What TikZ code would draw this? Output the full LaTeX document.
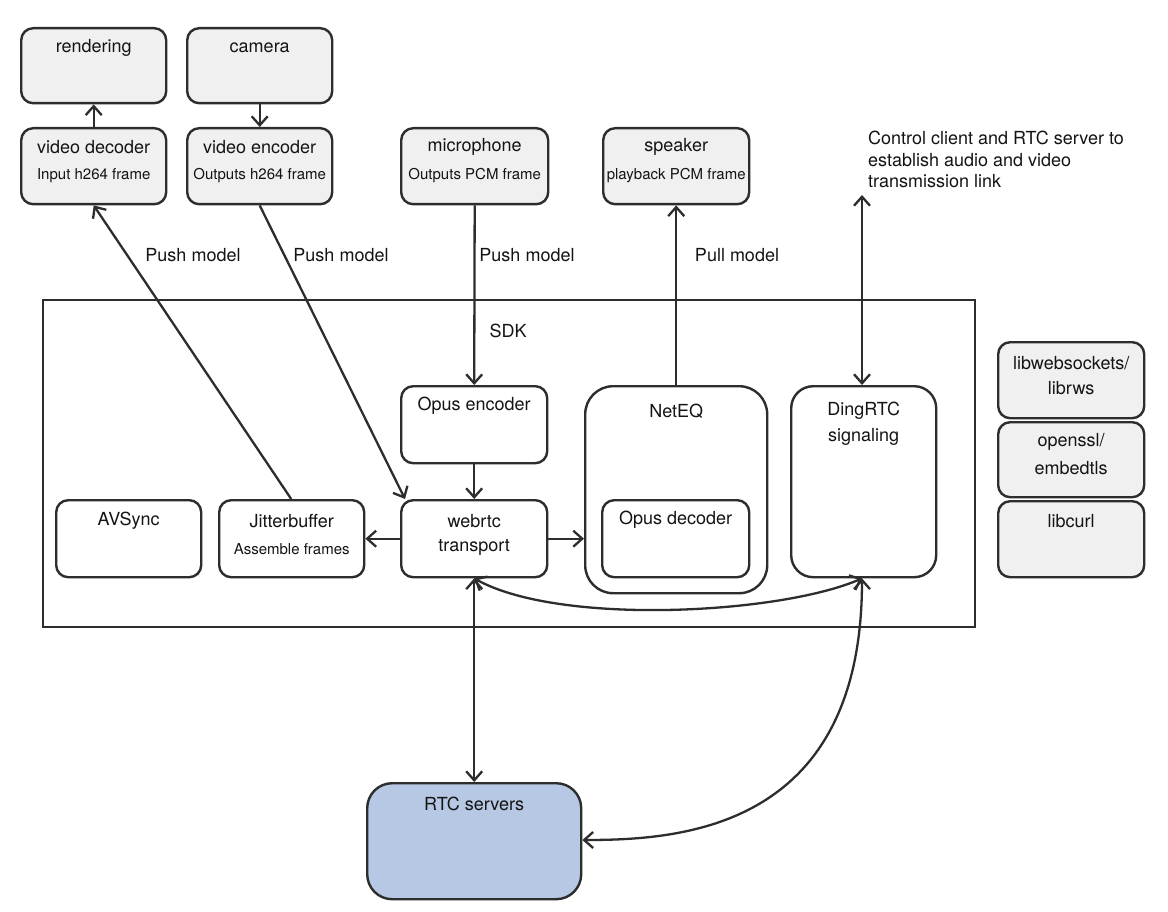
\documentclass[tikz,border=0pt]{standalone}
\usepackage{fontspec}
\setmainfont{TeX Gyre Heros}
\usetikzlibrary{arrows.meta}
\definecolor{linec}{RGB}{45,45,45}
\definecolor{boxfill}{RGB}{240,240,240}
\definecolor{rtcfill}{RGB}{182,200,228}
\definecolor{txt}{RGB}{20,20,20}
\tikzset{
  box/.style={draw=linec, line width=2.4pt, fill=boxfill, rounded corners=12pt, minimum width=145pt, minimum height=76pt, anchor=north west, inner sep=0pt},
  wbox/.style={box, fill=white},
  main/.style={font=\fontsize{18}{21.5}\selectfont, text=txt, inner sep=0pt},
  sub/.style={font=\fontsize{15}{17}\selectfont, text=txt, inner sep=0pt},
  conn/.style={line width=2.3pt, draw=linec},
  >={Straight Barb[length=9pt,width=16pt]}
}
\begin{document}
\begin{tikzpicture}[x=1pt,y=-1pt]
\useasboundingbox[fill=white] (0,0) rectangle (1168,912);

% top boxes
\node[box] (rendering) at (20,27) [minimum height=75pt] {};
\node[box] (camera) at (186,27) [minimum height=75pt] {};
\node[box] (vdec) at (20,127) {};
\node[box] (venc) at (186,127) {};
\node[box, minimum width=147pt] (mic) at (400,127) {};
\node[box, minimum width=146pt] (spk) at (602,127) {};

\node[main] (trendering) at ([yshift=-21pt]rendering.north) {rendering};
\node[main] (tcamera) at ([yshift=-21pt]camera.north) {camera};
\node[main] (tvdec) at ([yshift=-20pt]vdec.north) {video decoder};
\node[sub] (svdec) at ([yshift=-49pt]vdec.north) {Input h264 frame};
\node[main] (tvenc) at ([yshift=-20pt]venc.north) {video encoder};
\node[sub] (svenc) at ([yshift=-49pt]venc.north) {Outputs h264 frame};
\node[main] (tmic) at ([yshift=-20pt]mic.north) {microphone};
\node[sub] (smic) at ([yshift=-49pt]mic.north) {Outputs PCM frame};
\node[main] (tspk) at ([yshift=-20pt]spk.north) {speaker};
\node[sub] (sspk) at ([yshift=-49pt]spk.north) {playback PCM frame};

\node[main, anchor=north west, align=left] (ctrl) at (868,131) {Control client and RTC server to\\establish audio and video\\transmission link};
\coordinate (ctrlpt) at (862,195);

% SDK frame
\node[draw=linec, line width=2.4pt, minimum width=932pt, minimum height=327pt, anchor=north west, inner sep=0pt] (sdk) at (42,299) {};
\node[main] (tsdk) at (508,331) {SDK};

% SDK inner boxes
\node[wbox, minimum width=146pt, minimum height=77pt] (openc) at (400,385) {};
\node[wbox, minimum width=182pt, minimum height=207pt, rounded corners=28pt] (neteq) at (584,385) {};
\node[wbox, minimum width=147pt, minimum height=77pt] (opdec) at (601,499) {};
\node[wbox, minimum width=145pt, minimum height=191pt, rounded corners=22pt] (ding) at (790,385) {};
\node[wbox, minimum height=77pt] (avsync) at (55,499) {};
\node[wbox, minimum height=77pt] (jitter) at (218,499) {};
\node[wbox, minimum width=146pt, minimum height=77pt] (webrtc) at (400,499) {};

\node[main] (topenc) at ([yshift=-21pt]openc.north) {Opus encoder};
\node[main] (tneteq) at ([yshift=-26pt]neteq.north) {NetEQ};
\node[main] (topdec) at ([yshift=-21pt]opdec.north) {Opus decoder};
\node[main] (tding) at ([yshift=-26pt]ding.north) {DingRTC};
\node[main] (tding2) at ([yshift=-52pt]ding.north) {signaling};
\node[main] (tavsync) at ([yshift=-22pt]avsync.north) {AVSync};
\node[main] (tjitter) at ([yshift=-22pt]jitter.north) {Jitterbuffer};
\node[sub] (sjitter) at ([yshift=-50pt]jitter.north) {Assemble frames};
\node[main] (twebrtc) at ([yshift=-22pt]webrtc.north) {webrtc};
\node[main] (twebrtc2) at ([yshift=-48pt]webrtc.north) {transport};

% library boxes
\node[box, minimum width=146pt] (libws) at (997,341) {};
\node[box, minimum width=146pt, minimum height=75pt] (openssl) at (997,421) {};
\node[box, minimum width=146pt] (libcurl) at (997,500) {};
\node[main] (tlibws) at ([yshift=-22pt]libws.north) {libwebsockets/};
\node[main] (tlibws2) at ([yshift=-47pt]libws.north) {librws};
\node[main] (topenssl) at ([yshift=-21pt]openssl.north) {openssl/};
\node[main] (topenssl2) at ([yshift=-47pt]openssl.north) {embedtls};
\node[main] (tlibcurl) at ([yshift=-21pt]libcurl.north) {libcurl};

% RTC servers
\node[box, fill=rtcfill, minimum width=214pt, minimum height=116pt, rounded corners=25pt] (rtc) at (366,782) {};
\node[main] (trtc) at ([yshift=-22pt]rtc.north) {RTC servers};

% connectors
\draw[conn,->] (vdec.north) -- (rendering.south);
\draw[conn,->] (camera.south) -- (venc.north);
\draw[conn,->] ([xshift=-0.5pt]jitter.north) -- (vdec.south);
\draw[conn,->] (venc.south) -- ([xshift=5pt]webrtc.north west);
\draw[conn,->] (mic.south) -- (openc.north);
\draw[conn,->] (openc.south) -- (webrtc.north);
\draw[conn,->] (neteq.north -| spk.south) -- (spk.south);
\draw[conn,<->] (ctrlpt) -- (ctrlpt |- ding.north);
\draw[conn,->] (webrtc.west) -- (jitter.east);
\draw[conn,->] (webrtc.east) -- (neteq.west |- webrtc.east);
\draw[conn,<->] (webrtc.south) -- (rtc.north -| webrtc.south);
\draw[conn,<->] (webrtc.south) .. controls (560,626) and (780,614) .. (ctrlpt |- ding.south);
\draw[conn,<->] (ctrlpt |- ding.south) .. controls (862,830) and (680,840) .. ([yshift=-58pt]rtc.north east);

% arrow labels
\node[main] (lpush1) at (193,255) {Push model};
\node[main] (lpush2) at (341,255) {Push model};
\node[main] (lpush3) at (527,255) {Push model};
\node[main] (lpull) at (737,255) {Pull model};
\end{tikzpicture}
\end{document}
